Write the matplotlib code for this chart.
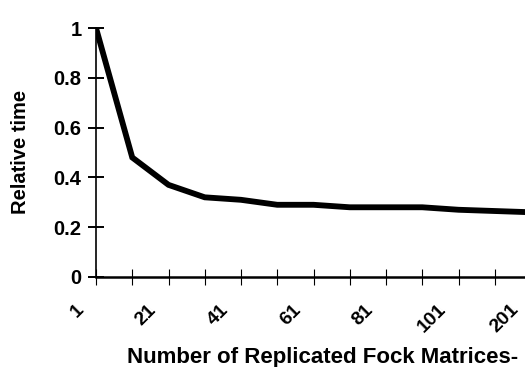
import matplotlib
matplotlib.use("Agg")
import matplotlib.pyplot as plt
import matplotlib.transforms as mtransforms

# Data
categories = ["1", "11", "21", "31", "41", "51", "61", "71", "81", "91", "101", "151", "201"]
relative_time = [1.0, 0.48, 0.37, 0.32, 0.31, 0.29, 0.29, 0.28, 0.28, 0.28, 0.27, 0.265, 0.26]
shown_labels = ["1", "21", "41", "61", "81", "101", "201"]
y_ticks = [0, 0.2, 0.4, 0.6, 0.8, 1.0]
y_tick_labels = ["0", "0.2", "0.4", "0.6", "0.8", "1"]

plt.rcParams['font.family'] = ['Liberation Sans', 'DejaVu Sans']
plt.rcParams['font.weight'] = 'bold'

W, H = 525, 367
fig = plt.figure(figsize=(W / 100, H / 100), dpi=100)
ax = fig.add_axes([96 / W, 90 / H, 435 / W, 249 / H])

x = list(range(len(categories)))
ax.plot(x, relative_time, color='black', linewidth=4.2, solid_joinstyle='miter')

ax.set_xlim(0, len(categories) - 1)
ax.set_ylim(0, 1)

for s in ['top', 'right']:
    ax.spines[s].set_visible(False)
ax.spines['left'].set_linewidth(1.2)
ax.spines['bottom'].set_linewidth(1.8)

ax.set_yticks(y_ticks)
ax.set_yticklabels(y_tick_labels, fontsize=14.5, fontweight='bold')
ax.tick_params(axis='y', direction='inout', length=11, width=1.4, pad=5)

ax.set_xticks(x)
lbls = [c if c in shown_labels else "" for c in categories]
ax.set_xticklabels(lbls, fontsize=14, fontweight='bold', rotation=45, ha='right', va='top')
ax.tick_params(axis='x', direction='inout', length=11, width=0.8, pad=12)
offset = mtransforms.ScaledTranslation(-9 / 100, 0, fig.dpi_scale_trans)
for t in ax.get_xticklabels():
    t.set_transform(t.get_transform() + offset)

fig.text(21 / W, 1 - 152 / H, "Relative time", rotation=90, ha='center', va='center',
         fontsize=14.5, fontweight='bold')
fig.text(323 / W, 4 / H, "Number of Replicated Fock Matrices-", ha='center', va='baseline',
         fontsize=16, fontweight='bold')

fig.savefig("out.png", dpi=100)
